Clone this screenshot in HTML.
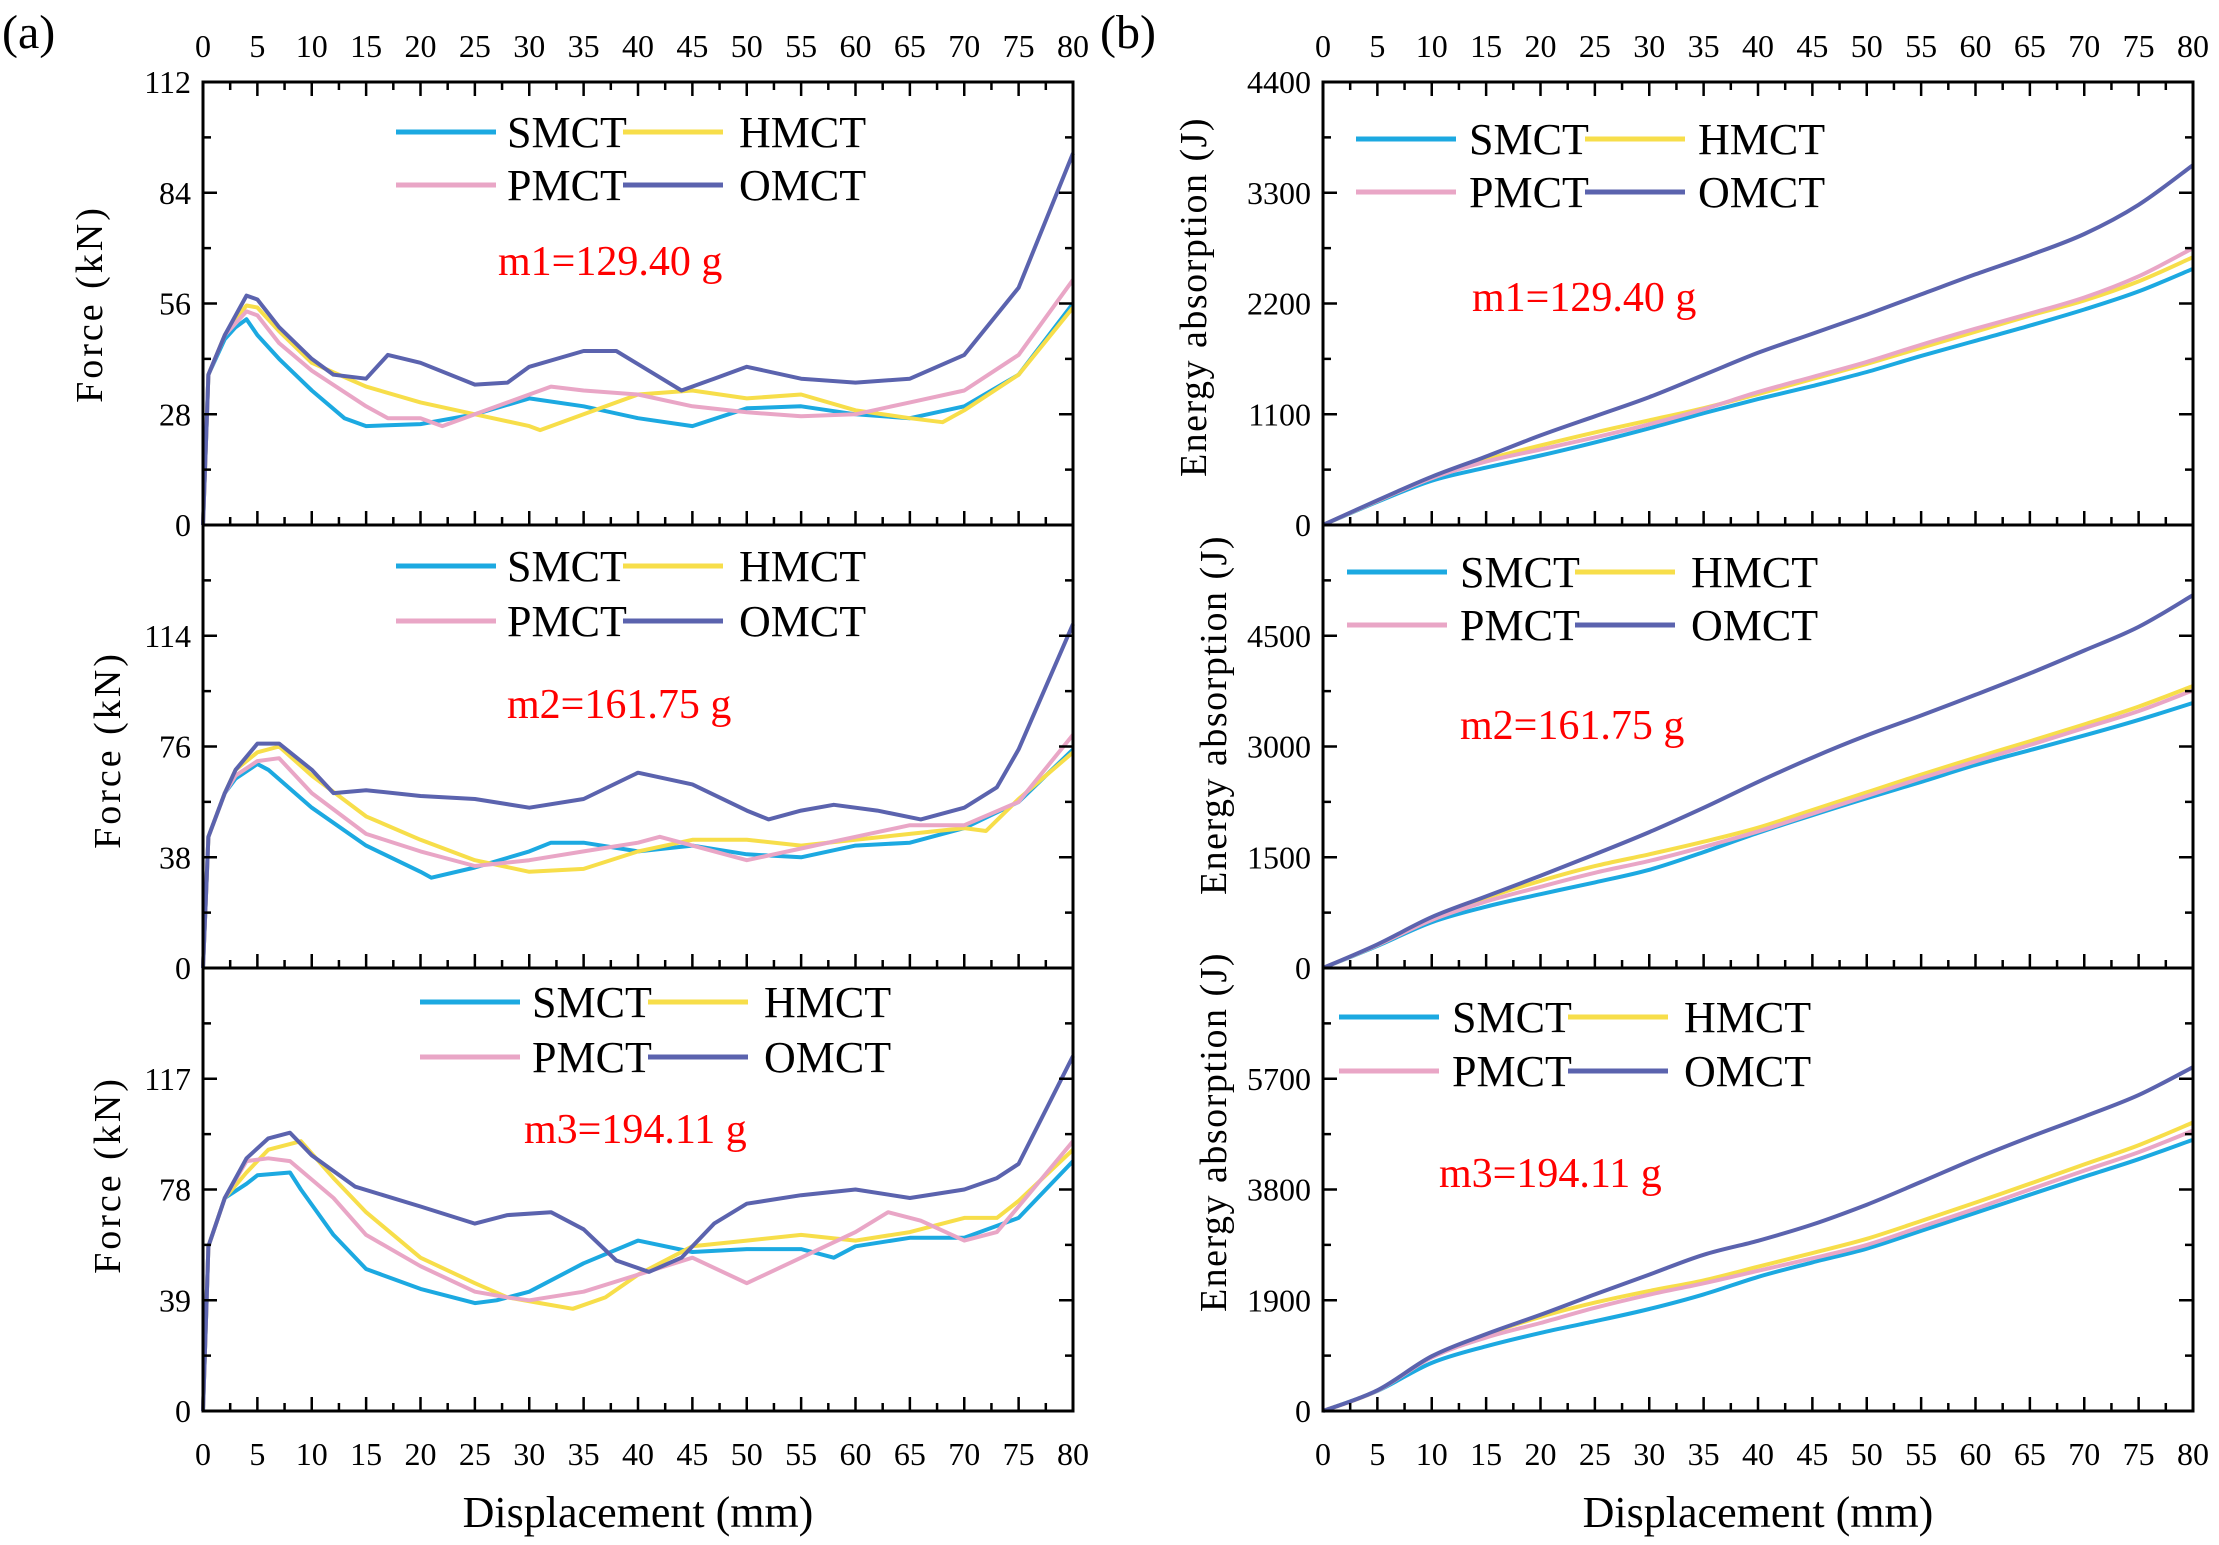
<!DOCTYPE html>
<html><head><meta charset="utf-8">
<style>
html,body{margin:0;padding:0;background:#fff;}
svg{display:block;font-family:"Liberation Serif","Times New Roman",serif;}
text{font-family:"Liberation Serif","Times New Roman",serif;}
</style></head>
<body>
<svg id="fig" width="2219" height="1545" viewBox="0 0 2219 1545" xmlns="http://www.w3.org/2000/svg">
<rect width="2219" height="1545" fill="#fff"/>
</svg>
<script>
// ---------- data ----------
const seriesNames = ["SMCT","HMCT","PMCT","OMCT"];
const seriesColors = ["#1ca9e1","#f7de4a","#e9a6c6","#5b63ae"];
const massLabels = ["m1=129.40 g","m2=161.75 g","m3=194.11 g"];
const xTicks = [0,5,10,15,20,25,30,35,40,45,50,55,60,65,70,75,80];

const f1x_S=[0,0.5,2,3,4,5,7,10,13,15,20,25,30,35,40,45,50,55,60,65,70,75,80];
const f1y_S=[0,38,47,50,52,48,42,34,27,25,25.5,28,32,30,27,25,29.5,30,28,27,30,38,56];
const f1x_H=[0,0.5,2,3,4,5,7,10,15,20,25,30,31,35,40,45,50,55,60,65,68,70,75,80];
const f1y_H=[0,38,48,52,55.5,55,49,41,35,31,28,25,24,28,33,34,32,33,29,27,26,29,38,55];
const f1x_P=[0,0.5,2,3,4,5,7,10,15,17,20,22,25,30,32,35,40,45,50,55,60,65,70,75,80];
const f1y_P=[0,38,48,51,54,53,46,39,30,27,27,25,28,33,35,34,33,30,28.5,27.5,28,31,34,43,62];
const f1x_O=[0,0.5,2,3,4,5,7,10,12,15,17,20,25,28,30,35,38,44,47,50,55,60,65,70,75,80];
const f1y_O=[0,38,48,53,58,57,50,42,38,37,43,41,35.5,36,40,44,44,34,37,40,37,36,37,43,60,94];

const f2x_S=[0,0.5,2,3,5,6,10,15,20,21,25,30,32,35,40,45,50,55,60,65,70,75,80];
const f2y_S=[0,45,60,65,70,68,55,42,33,31,34.5,40,43,43,40,42,39,38,42,43,48,57,75];
const f2x_H=[0,0.5,2,3,5,7,10,15,20,25,30,35,40,45,50,55,60,65,70,72,75,80];
const f2y_H=[0,45,60,68,74,76,66,52,44,37,33,34,40,44,44,42,44,46,48,47,58,74];
const f2x_P=[0,0.5,2,3,5,7,10,15,20,25,30,35,40,42,45,50,55,60,65,70,75,80];
const f2y_P=[0,45,60,66,71,72,60,46,40,35,37,40,43,45,42,37,41,45,49,49,57,80];
const f2x_O=[0,0.5,2,3,5,7,10,12,15,20,25,30,35,40,45,50,52,55,58,62,66,70,73,75,80];
const f2y_O=[0,45,60,68,77,77,68,60,61,59,58,55,58,67,63,54,51,54,56,54,51,55,62,75,118];

const f3x_S=[0,0.5,2,4,5,8,9,12,15,20,25,27,30,35,40,45,50,55,58,60,65,70,75,80];
const f3y_S=[0,58,75,80,83,84,78,62,50,43,38,39,42,52,60,56,57,57,54,58,61,61,68,88];
const f3x_H=[0,0.5,2,4,6,9,12,15,20,25,28,31,34,37,40,45,50,55,60,65,70,73,75,80];
const f3y_H=[0,58,75,84,92,95,82,70,54,45,40,38,36,40,48,58,60,62,60,63,68,68,74,92];
const f3x_P=[0,0.5,2,4,6,8,12,15,20,25,28,30,35,40,45,50,55,60,63,66,70,73,75,80];
const f3y_P=[0,58,75,88,89,88,75,62,51,42,40,39,42,48,54,45,54,63,70,67,60,63,72,95];
const f3x_O=[0,0.5,2,4,6,8,10,14,20,25,28,32,35,38,41,44,47,50,55,60,65,70,73,75,80];
const f3y_O=[0,58,75,89,96,98,90,79,72,66,69,70,64,53,49,54,66,73,76,78,75,78,82,87,125];

const ex = [0,5,10,15,20,25,30,35,40,45,50,55,60,65,70,75,80];
const e1_S=[0,230,440,570,690,820,960,1110,1250,1380,1520,1680,1830,1980,2140,2320,2545];
const e1_H=[0,240,470,650,790,920,1040,1160,1300,1450,1600,1760,1920,2080,2230,2420,2660];
const e1_P=[0,240,465,630,750,870,1000,1150,1320,1470,1620,1790,1950,2100,2260,2470,2750];
const e1_O=[0,245,480,680,890,1080,1270,1490,1710,1900,2090,2290,2490,2680,2890,3180,3575];
const e2_S=[0,300,620,830,1000,1160,1330,1570,1830,2070,2300,2520,2750,2950,3150,3360,3590];
const e2_H=[0,310,660,950,1180,1380,1540,1710,1900,2140,2380,2620,2850,3070,3300,3540,3820];
const e2_P=[0,310,650,900,1100,1290,1450,1640,1850,2090,2330,2570,2800,3020,3250,3480,3760];
const e2_O=[0,320,690,970,1250,1540,1840,2170,2520,2850,3150,3420,3700,3990,4300,4620,5050];
const e3_S=[0,345,825,1110,1340,1540,1750,2000,2300,2550,2785,3090,3400,3710,4020,4320,4655];
const e3_H=[0,350,930,1310,1615,1860,2060,2240,2475,2710,2955,3260,3575,3900,4230,4560,4950];
const e3_P=[0,350,920,1260,1510,1770,1995,2190,2405,2620,2850,3160,3470,3800,4125,4440,4810];
const e3_O=[0,355,940,1320,1650,2000,2340,2680,2920,3200,3540,3930,4330,4700,5050,5420,5900];

const forceTicks1=[0,28,56,84,112];
const forceTicks2=[0,38,76,114];
const forceTicks3=[0,39,78,117];
const energyTicks1=[0,1100,2200,3300,4400];
const energyTicks2=[0,1500,3000,4500];
const energyTicks3=[0,1900,3800,5700];

// ---------- drawing ----------
const NS="http://www.w3.org/2000/svg";
const svg=document.getElementById('fig');
const FONT='"Liberation Serif", "Times New Roman", serif';
function mk(tag,attrs,parent){const e=document.createElementNS(NS,tag);for(const k in attrs)e.setAttribute(k,attrs[k]);if(tag==='text')e.setAttribute('font-family',FONT);(parent||svg).appendChild(e);return e;}

const panelTop=[82,525,968];
const PH=443;

function smoothPath(P){
  let d='M'+P[0][0].toFixed(1)+','+P[0][1].toFixed(1);
  for(let i=0;i<P.length-1;i++){
    const p0=P[i-1]||P[i],p1=P[i],p2=P[i+1],p3=P[i+2]||P[i+1];
    const c1=[p1[0]+(p2[0]-p0[0])/6,p1[1]+(p2[1]-p0[1])/6];
    const c2=[p2[0]-(p3[0]-p1[0])/6,p2[1]-(p3[1]-p1[1])/6];
    d+=` C${c1[0].toFixed(1)},${c1[1].toFixed(1)} ${c2[0].toFixed(1)},${c2[1].toFixed(1)} ${p2[0].toFixed(1)},${p2[1].toFixed(1)}`;
  }
  return d;
}

function drawPanel(cfg){
  const g=mk('g',{});
  
  
  const x0=cfg.x0,x1=cfg.x1,top=cfg.top,bot=cfg.top+PH;
  const sx=v=>x0+(v/80)*(x1-x0);
  const sy=v=>bot-(v/cfg.ymax)*PH;
  cfg.series.forEach((s,i)=>{
    const P=s.x.map((xv,j)=>[sx(xv),sy(s.y[j])]);
    let el;
    if(cfg.smooth){
      el=mk('path',{d:smoothPath(P),fill:'none',stroke:seriesColors[i],'stroke-width':4},g);
    } else {
      el=mk('polyline',{points:P.map(p=>p[0].toFixed(1)+','+p[1].toFixed(1)).join(' '),fill:'none',stroke:seriesColors[i],'stroke-width':4,'stroke-linejoin':'round'},g);
    }
    
    
  });
  const fr=mk('rect',{x:x0,y:top,width:x1-x0,height:PH,fill:'none',stroke:'#000','stroke-width':3},g);
  
  
  for(let v=0;v<=80;v+=2.5){
    const major=(v%5===0);const L=major?14:8;
    mk('line',{x1:sx(v),x2:sx(v),y1:bot,y2:bot-L,stroke:'#000','stroke-width':2.5},g);
    if(cfg.topTicks) mk('line',{x1:sx(v),x2:sx(v),y1:top,y2:top+L,stroke:'#000','stroke-width':2.5},g);
  }
  const step=cfg.yticks[1];
  for(let v=0;v<=cfg.ymax+1e-6;v+=step/2){
    const major=Math.abs((v/step)-Math.round(v/step))<1e-6;const L=major?14:8;
    mk('line',{x1:x0,x2:x0+L,y1:sy(v),y2:sy(v),stroke:'#000','stroke-width':2.5},g);
    mk('line',{x1:x1,x2:x1-L,y1:sy(v),y2:sy(v),stroke:'#000','stroke-width':2.5},g);
  }
  cfg.yticks.forEach(v=>{
    const t=mk('text',{x:x0-12,y:sy(v)+11,'text-anchor':'end','font-size':32},g);
    t.textContent=v;
    
    
  });
  const L=cfg.legend;
  seriesNames.forEach((n,i)=>{
    const col=i%2,row=Math.floor(i/2);
    const lx=col?L.lx2:L.lx1, tx=col?L.tx2:L.tx1, ly=row?L.y2:L.y1;
    const ln=mk('line',{x1:lx,x2:lx+100,y1:ly,y2:ly,stroke:seriesColors[i],'stroke-width':5},g);
    
    
    const t=mk('text',{x:tx,y:ly+15,'font-size':44},g);
    t.textContent=n;
    
    
  });
  const m=mk('text',{x:cfg.mass.x,y:cfg.mass.y,'font-size':42,fill:'#ff0000'},g);
  m.textContent=cfg.mass.text;
  
  
  const yt=mk('text',{x:0,y:0,'font-size':38,'text-anchor':'middle','letter-spacing':cfg.ls,transform:`translate(${cfg.title.x},${cfg.title.y}) rotate(-90)`},g);
  yt.textContent=cfg.title.text;
  
  
  return {sx};
}

const fx=[[f1x_S,f1x_H,f1x_P,f1x_O],[f2x_S,f2x_H,f2x_P,f2x_O],[f3x_S,f3x_H,f3x_P,f3x_O]];
const fy=[[f1y_S,f1y_H,f1y_P,f1y_O],[f2y_S,f2y_H,f2y_P,f2y_O],[f3y_S,f3y_H,f3y_P,f3y_O]];
const ey=[[e1_S,e1_H,e1_P,e1_O],[e2_S,e2_H,e2_P,e2_O],[e3_S,e3_H,e3_P,e3_O]];
const fTicks=[forceTicks1,forceTicks2,forceTicks3];
const eTicks=[energyTicks1,energyTicks2,energyTicks3];
const fMax=[112,152,156], eMax=[4400,6000,7600];

const fLeg=[{lx1:396,tx1:507,lx2:623,tx2:739,y1:132,y2:185},{lx1:396,tx1:507,lx2:623,tx2:739,y1:566,y2:621},{lx1:420,tx1:532,lx2:648,tx2:764,y1:1002,y2:1057}];
const fMass=[{x:498,y:275},{x:507,y:718},{x:524,y:1143}];
const fTitle=[{x:102,y:304},{x:120,y:750},{x:120,y:1175}];
const eLeg=[{lx1:1356,tx1:1469,lx2:1585,tx2:1698,y1:139,y2:192},{lx1:1347,tx1:1460,lx2:1575,tx2:1691,y1:572,y2:625},{lx1:1339,tx1:1452,lx2:1568,tx2:1684,y1:1017,y2:1071}];
const eMass=[{x:1472,y:311},{x:1460,y:739},{x:1439,y:1187}];
const eTitle=[{x:1206,y:297},{x:1226,y:715},{x:1226,y:1132}];

let axA,axB;
for(let p=0;p<3;p++){
  const a=drawPanel({name:'force-panel-'+(p+1),x0:203,x1:1073,top:panelTop[p],ymax:fMax[p],yticks:fTicks[p],topTicks:p===0,smooth:false,
    series:seriesNames.map((n,i)=>({x:fx[p][i],y:fy[p][i]})),legend:fLeg[p],mass:{...fMass[p],text:massLabels[p]},
    title:{...fTitle[p],text:'Force (kN)'},ls:3});
  const b=drawPanel({name:'energy-panel-'+(p+1),x0:1323,x1:2193,top:panelTop[p],ymax:eMax[p],yticks:eTicks[p],topTicks:p===0,smooth:true,
    series:seriesNames.map((n,i)=>({x:ex,y:ey[p][i]})),legend:eLeg[p],mass:{...eMass[p],text:massLabels[p]},
    title:{...eTitle[p],text:'Energy absorption (J)'},ls:1.5});
  if(p===0){axA=a;axB=b;}
}
[axA,axB].forEach((ax,k)=>{
  xTicks.forEach(v=>{
    const t1=mk('text',{x:ax.sx(v),y:57,'text-anchor':'middle','font-size':32});
    t1.textContent=v;
    
    
    const t2=mk('text',{x:ax.sx(v),y:1465,'text-anchor':'middle','font-size':32});
    t2.textContent=v;
    
    
  });
  const xt=mk('text',{x:k?1758:638,y:1527,'text-anchor':'middle','font-size':44});
  xt.textContent='Displacement (mm)';
  
  
});
const la=mk('text',{x:2,y:48,'font-size':48});
la.textContent='(a)';


const lb=mk('text',{x:1100,y:48,'font-size':48});
lb.textContent='(b)';


</script>
</body></html>
